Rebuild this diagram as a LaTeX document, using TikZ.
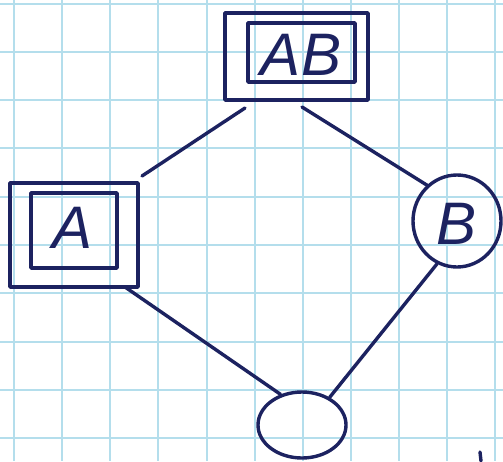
\documentclass[tikz,border=0pt]{standalone}
\usepackage{fontspec}
\setmainfont{Liberation Sans}
\usetikzlibrary{shapes.geometric}
\definecolor{ink}{HTML}{1C2260}
\definecolor{gridc}{HTML}{B4DEEC}
\begin{document}
\begin{tikzpicture}[x=0.5pt,y=-0.5pt,
  pen/.style={draw=ink,line width=1.7pt,line cap=round,line join=round},
  lbl/.style={text=ink,font=\fontsize{30}{32}\selectfont\itshape},
  gridline/.style={draw=gridc,line width=0.6pt}]
\useasboundingbox (0,0) rectangle (503,461);
\fill[white] (0,0) rectangle (503,461);
% grid paper
\foreach \x in {14,62,110,158,207,255,303,351,399,447,495}
  \draw[gridline] (\x,0) -- (\x,461);
\foreach \y in {4,52,100,148,197,245,293,342,390,438}
  \draw[gridline] (0,\y) -- (503,\y);
% AB box
\draw[pen] (225,13) rectangle (368,100);
\draw[pen] (248,23) rectangle (355,82);
\node[lbl] (ab) at (301,55) {AB};
\coordinate (abL) at (245,108);
\coordinate (abR) at (302,107);
% A box
\draw[pen] (10,183) rectangle (138,287);
\draw[pen] (31,193) rectangle (117,268);
\node[lbl] (a) at (73,228) {A};
\coordinate (aT) at (142,176);
\coordinate (aB) at (125,287);
% B circle
\node[pen,ellipse,minimum width=44pt,minimum height=46pt,inner sep=0pt] (b) at (457,221) {};
\node[lbl] (bl) at (457,224) {B};
% bottom circle
\node[pen,ellipse,minimum width=44pt,minimum height=33pt,inner sep=0pt] (bot) at (302,425) {};
% connectors
\draw[pen] (abL) -- (aT);
\draw[pen] (abR) -- (b.130);
\draw[pen] (aB) -- (bot.125);
\draw[pen] (b.245) -- (bot.45);
% stray mark
\coordinate (m1) at (480,452); \coordinate (m2) at (481,461);
\draw[pen] (m1) -- (m2);
\end{tikzpicture}
\end{document}
